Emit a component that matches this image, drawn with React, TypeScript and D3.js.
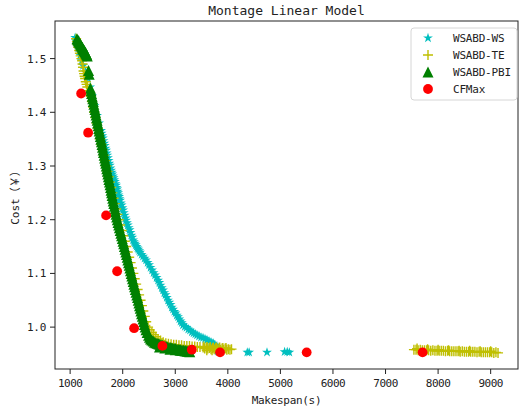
import React from 'react';
import * as d3 from 'd3';

const W = 519;
const H = 415;
const M = { left: 55, right: 518, top: 21, bottom: 369 };

const xTicks = [1000, 2000, 3000, 4000, 5000, 6000, 7000, 8000, 9000];
const yTicks = [1.0, 1.1, 1.2, 1.3, 1.4, 1.5];

// [makespan, cost]
const wsPts: [number, number][] = [
  [1095, 1.539], [1110, 1.533], [1150, 1.52], [1190, 1.506], [1220, 1.496], [1247, 1.487],
  [1295, 1.475], [1342, 1.463], [1380, 1.447], [1418, 1.431], [1465, 1.412], [1513, 1.394],
  [1550, 1.38], [1589, 1.366], [1600, 1.361], [1612, 1.356], [1624, 1.352], [1636, 1.347],
  [1648, 1.342], [1660, 1.338], [1672, 1.333], [1684, 1.329], [1696, 1.324], [1708, 1.32],
  [1720, 1.315], [1732, 1.31], [1744, 1.305], [1756, 1.301], [1768, 1.296], [1779, 1.292],
  [1791, 1.288], [1803, 1.285], [1815, 1.281], [1827, 1.278], [1839, 1.274], [1851, 1.271],
  [1863, 1.267], [1875, 1.264], [1885, 1.26], [1895, 1.257], [1904, 1.253], [1913, 1.25],
  [1922, 1.246], [1932, 1.243], [1941, 1.239], [1951, 1.236], [1965, 1.231], [1980, 1.227],
  [1994, 1.222], [2008, 1.218], [2022, 1.213], [2037, 1.208], [2051, 1.203], [2065, 1.199],
  [2082, 1.194], [2098, 1.19], [2115, 1.185], [2132, 1.181], [2148, 1.176], [2165, 1.171],
  [2182, 1.167], [2198, 1.162], [2215, 1.159], [2232, 1.156], [2248, 1.153], [2265, 1.15],
  [2282, 1.147], [2298, 1.145], [2315, 1.142], [2331, 1.139], [2360, 1.135], [2388, 1.132],
  [2416, 1.128], [2445, 1.125], [2474, 1.12], [2502, 1.116], [2530, 1.111], [2559, 1.106],
  [2588, 1.101], [2616, 1.097], [2645, 1.092], [2673, 1.087], [2697, 1.083], [2720, 1.078],
  [2744, 1.073], [2768, 1.069], [2792, 1.064], [2815, 1.06], [2839, 1.055], [2863, 1.05],
  [2887, 1.046], [2910, 1.042], [2934, 1.037], [2958, 1.033], [2982, 1.029], [3005, 1.026],
  [3029, 1.022], [3053, 1.019], [3077, 1.015], [3100, 1.011], [3124, 1.008], [3148, 1.004],
  [3182, 1.001], [3215, 0.999], [3248, 0.996], [3281, 0.994], [3315, 0.991], [3348, 0.989],
  [3381, 0.987], [3414, 0.985], [3452, 0.983], [3490, 0.981], [3528, 0.98], [3566, 0.978],
  [3604, 0.976], [3642, 0.974], [3680, 0.972], [3719, 0.97], [3735, 0.968], [3750, 0.966],
  [3763, 0.965], [3776, 0.963], [3790, 0.961], [3800, 0.959], [3808, 0.957], [3814, 0.955],
  [4370, 0.953], [4405, 0.953], [4745, 0.953], [5080, 0.954], [5130, 0.954], [5170, 0.953],
];

const tePts: [number, number][] = [
  [1114, 1.537], [1128, 1.532], [1140, 1.527], [1155, 1.521], [1171, 1.515], [1185, 1.51],
  [1200, 1.505], [1214, 1.5], [1228, 1.496], [1236, 1.49], [1244, 1.484], [1255, 1.477],
  [1265, 1.472], [1275, 1.467], [1285, 1.463], [1298, 1.457], [1312, 1.452], [1327, 1.447],
  [1350, 1.44], [1372, 1.434], [1394, 1.43], [1415, 1.42], [1436, 1.41], [1457, 1.4],
  [1481, 1.39], [1503, 1.38], [1525, 1.37], [1549, 1.36], [1573, 1.35], [1596, 1.34],
  [1618, 1.33], [1641, 1.32], [1665, 1.31], [1687, 1.3], [1710, 1.29], [1733, 1.28],
  [1757, 1.27], [1781, 1.26], [1803, 1.25], [1827, 1.24], [1851, 1.23], [1875, 1.22],
  [1899, 1.21], [1924, 1.2], [1952, 1.19], [1981, 1.18], [2010, 1.17], [2040, 1.16],
  [2067, 1.15], [2095, 1.14], [2123, 1.13], [2150, 1.12], [2176, 1.11], [2203, 1.1],
  [2228, 1.09], [2256, 1.08], [2284, 1.07], [2312, 1.06], [2340, 1.05], [2366, 1.04],
  [2392, 1.03], [2420, 1.02], [2447, 1.01], [2483, 1.0], [2513, 0.995], [2555, 0.99],
  [2590, 0.986], [2630, 0.982], [2673, 0.978], [2720, 0.975], [2770, 0.972], [2820, 0.97],
  [2870, 0.969], [2920, 0.968], [2970, 0.967], [3020, 0.967], [3070, 0.966], [3120, 0.966],
  [3170, 0.965], [3220, 0.965], [3270, 0.965], [3320, 0.964], [3370, 0.964], [3420, 0.963],
  [3470, 0.963], [3530, 0.962], [3560, 0.96], [3590, 0.962], [3620, 0.96], [3650, 0.961],
  [3680, 0.959], [3710, 0.961], [3740, 0.959], [3770, 0.961], [3800, 0.959], [3830, 0.96],
  [3860, 0.958], [3890, 0.96], [3920, 0.958], [3950, 0.96], [3980, 0.958], [4010, 0.959],
  [4040, 0.958], [4070, 0.959],
  [3545, 0.964], [3605, 0.963], [3665, 0.963], [3725, 0.962], [3785, 0.962], [3845, 0.962],
  [3905, 0.961], [3965, 0.961], [3600, 0.957], [3700, 0.957], [3800, 0.956], [3900, 0.956],
  [7540, 0.958], [7580, 0.958], [7620, 0.957], [7660, 0.958], [7700, 0.957], [7740, 0.957],
  [7780, 0.957], [7820, 0.957], [7860, 0.956], [7900, 0.957], [7940, 0.956], [7980, 0.956],
  [8020, 0.956], [8060, 0.956], [8100, 0.956], [8140, 0.955], [8180, 0.956], [8220, 0.955],
  [8260, 0.955], [8300, 0.955], [8340, 0.955], [8380, 0.955], [8420, 0.954], [8460, 0.955],
  [8500, 0.954], [8540, 0.954], [8580, 0.954], [8620, 0.954], [8660, 0.954], [8700, 0.954],
  [8740, 0.953], [8780, 0.954], [8820, 0.953], [8860, 0.953], [8900, 0.953], [8940, 0.953],
  [8980, 0.953], [9020, 0.953], [9060, 0.952], [9100, 0.953], [9140, 0.952],
  [7600, 0.96], [7800, 0.959], [8000, 0.958], [8200, 0.957], [8400, 0.956], [8600, 0.956],
  [8800, 0.955], [9000, 0.955],
];

const pbiPts: [number, number][] = [
  [1130, 1.537], [1142, 1.535], [1155, 1.533], [1168, 1.531], [1180, 1.529], [1192, 1.527],
  [1205, 1.525], [1218, 1.523], [1230, 1.521], [1243, 1.519], [1255, 1.517], [1268, 1.515],
  [1280, 1.513], [1292, 1.511], [1305, 1.509], [1315, 1.507], [1325, 1.505],
  [1350, 1.478], [1362, 1.471],
  [1386, 1.445], [1397, 1.44], [1408, 1.435], [1419, 1.43], [1430, 1.425], [1440, 1.42],
  [1451, 1.415], [1461, 1.41], [1472, 1.405], [1482, 1.4], [1493, 1.395], [1503, 1.39],
  [1513, 1.385], [1523, 1.38], [1534, 1.375], [1543, 1.37], [1553, 1.365], [1564, 1.36],
  [1574, 1.355], [1585, 1.35], [1595, 1.345], [1606, 1.34], [1616, 1.335], [1626, 1.33],
  [1635, 1.325], [1646, 1.32], [1656, 1.315], [1667, 1.31], [1677, 1.305], [1687, 1.3],
  [1697, 1.295], [1707, 1.29], [1717, 1.285], [1727, 1.28], [1737, 1.275], [1748, 1.27],
  [1758, 1.265], [1769, 1.26], [1779, 1.255], [1788, 1.25], [1798, 1.245], [1809, 1.24],
  [1819, 1.235], [1831, 1.23], [1842, 1.225], [1853, 1.22], [1863, 1.215], [1874, 1.21],
  [1884, 1.205], [1897, 1.2], [1910, 1.195], [1924, 1.19], [1937, 1.185], [1951, 1.18],
  [1965, 1.175], [1978, 1.17], [1992, 1.165], [2006, 1.16], [2019, 1.155], [2032, 1.15],
  [2045, 1.145], [2059, 1.14], [2072, 1.135], [2085, 1.13], [2097, 1.125], [2110, 1.12],
  [2123, 1.115], [2136, 1.11], [2148, 1.105], [2161, 1.1], [2173, 1.095], [2186, 1.09],
  [2199, 1.085], [2213, 1.08], [2226, 1.075], [2240, 1.07], [2253, 1.065], [2267, 1.06],
  [2281, 1.055], [2295, 1.05], [2308, 1.045], [2320, 1.04], [2332, 1.035], [2346, 1.03],
  [2359, 1.025], [2373, 1.02], [2386, 1.015], [2399, 1.01], [2412, 1.005], [2428, 1.0],
  [2443, 0.995], [2465, 0.99], [2492, 0.985],
  [2510, 0.981], [2530, 0.978], [2555, 0.976], [2580, 0.974], [2605, 0.972], [2630, 0.971],
  [2655, 0.97], [2680, 0.969], [2705, 0.968], [2730, 0.967], [2755, 0.966], [2780, 0.965],
  [2805, 0.965], [2830, 0.964], [2855, 0.963], [2880, 0.962], [2905, 0.962], [2930, 0.961],
  [2955, 0.961], [2980, 0.96], [3005, 0.96], [3030, 0.959], [3055, 0.959], [3080, 0.958],
  [3105, 0.958], [3130, 0.957], [3155, 0.957], [3180, 0.956], [3205, 0.956], [3230, 0.955],
  [3255, 0.955], [3275, 0.954],
  [2700, 0.963], [2800, 0.961], [2900, 0.959], [3000, 0.958], [3100, 0.957], [3200, 0.956],
];

const cfmaxPts: [number, number][] = [
  [1209, 1.435], [1342, 1.362], [1684, 1.208], [1894, 1.104], [2217, 0.998],
  [2755, 0.965], [3314, 0.958], [3852, 0.953], [5500, 0.953], [7705, 0.953],
];

const C_WS = '#00bfbf';
const C_TE = '#bfbf00';
const C_PBI = '#008000';
const C_CF = '#ff0000';

const FONT = '"DejaVu Sans Mono", "Noto Sans CJK SC", monospace';

const xScale = d3.scaleLinear().domain([712, 9520]).range([M.left, M.right]);
const yScale = d3.scaleLinear().domain([0.922, 1.57]).range([M.bottom, M.top]);

const starPath = d3.symbol(d3.symbolStar, 30)() as string;
const triPath = 'M0,-5.5L5.5,5.5L-5.5,5.5Z';
const plusPath = 'M-5,0H5M0,-5V5';

function Star({ x, y }: { x: number; y: number }) {
  return <path d={starPath} transform={`translate(${x},${y})`} fill={C_WS} />;
}
function Plus({ x, y }: { x: number; y: number }) {
  return <path d={plusPath} transform={`translate(${x},${y})`} stroke={C_TE} strokeWidth={1.4} fill="none" />;
}
function Tri({ x, y }: { x: number; y: number }) {
  return <path d={triPath} transform={`translate(${x},${y})`} fill={C_PBI} />;
}
function Dot({ x, y }: { x: number; y: number }) {
  return <circle cx={x} cy={y} r={4.9} fill={C_CF} />;
}

const legendItems = [
  { label: 'WSABD-WS', Mk: Star },
  { label: 'WSABD-TE', Mk: Plus },
  { label: 'WSABD-PBI', Mk: Tri },
  { label: 'CFMax', Mk: Dot },
];

export default function App() {
  return (
    <svg width={W} height={H} style={{ position: 'absolute', left: 0, top: 0, background: '#fff' }}>
      <rect width={W} height={H} fill="#fff" />
      <g>
        {wsPts.map((d, i) => <Star key={'w' + i} x={xScale(d[0])} y={yScale(d[1])} />)}
        {tePts.map((d, i) => <Plus key={'t' + i} x={xScale(d[0])} y={yScale(d[1])} />)}
        {pbiPts.map((d, i) => <Tri key={'p' + i} x={xScale(d[0])} y={yScale(d[1])} />)}
        {cfmaxPts.map((d, i) => <Dot key={'c' + i} x={xScale(d[0])} y={yScale(d[1])} />)}
      </g>

      {/* frame */}
      <rect x={M.left} y={M.top} width={M.right - M.left} height={M.bottom - M.top}
        fill="none" stroke="#222" strokeWidth={1} />

      {/* x axis */}
      {xTicks.map(t => (
        <g key={t} transform={`translate(${xScale(t)},${M.bottom})`}>
          <line y2={5} stroke="#222" />
          <text y={18} textAnchor="middle" fontFamily={FONT} fontSize={11} letterSpacing={-0.5} fill="#222">{t}</text>
        </g>
      ))}
      {/* y axis */}
      {yTicks.map(t => (
        <g key={t} transform={`translate(${M.left},${yScale(t)})`}>
          <line x2={-5} stroke="#222" />
          <text x={-9} dy="0.36em" textAnchor="end" fontFamily={FONT} fontSize={11} letterSpacing={-0.3} fill="#222">{t.toFixed(1)}</text>
        </g>
      ))}

      <text x={(M.left + M.right) / 2} y={404} textAnchor="middle" fontFamily={FONT} fontSize={11} letterSpacing={-0.3} fill="#222">Makespan(s)</text>
      <text transform={`translate(19,${(M.top + M.bottom) / 2}) rotate(-90)`} textAnchor="middle"
        fontFamily={FONT} fontSize={11} fill="#222">Cost（￥）</text>
      <text x={(M.left + M.right) / 2} y={15} textAnchor="middle" fontFamily={FONT} fontSize={13} fill="#222">Montage Linear Model</text>

      {/* legend */}
      <g>
        <rect x={411} y={28} width={106} height={72} rx={3} fill="#fff" fillOpacity={0.8} stroke="#d6d6d6" />
        {legendItems.map((it, i) => {
          const y = 38 + i * 17;
          const Mk = it.Mk;
          return (
            <g key={it.label}>
              <Mk x={428} y={y} />
              <text x={453} y={y} dy="0.36em" fontFamily={FONT} fontSize={11} letterSpacing={-0.2} fill="#222">{it.label}</text>
            </g>
          );
        })}
      </g>
    </svg>
  );
}
